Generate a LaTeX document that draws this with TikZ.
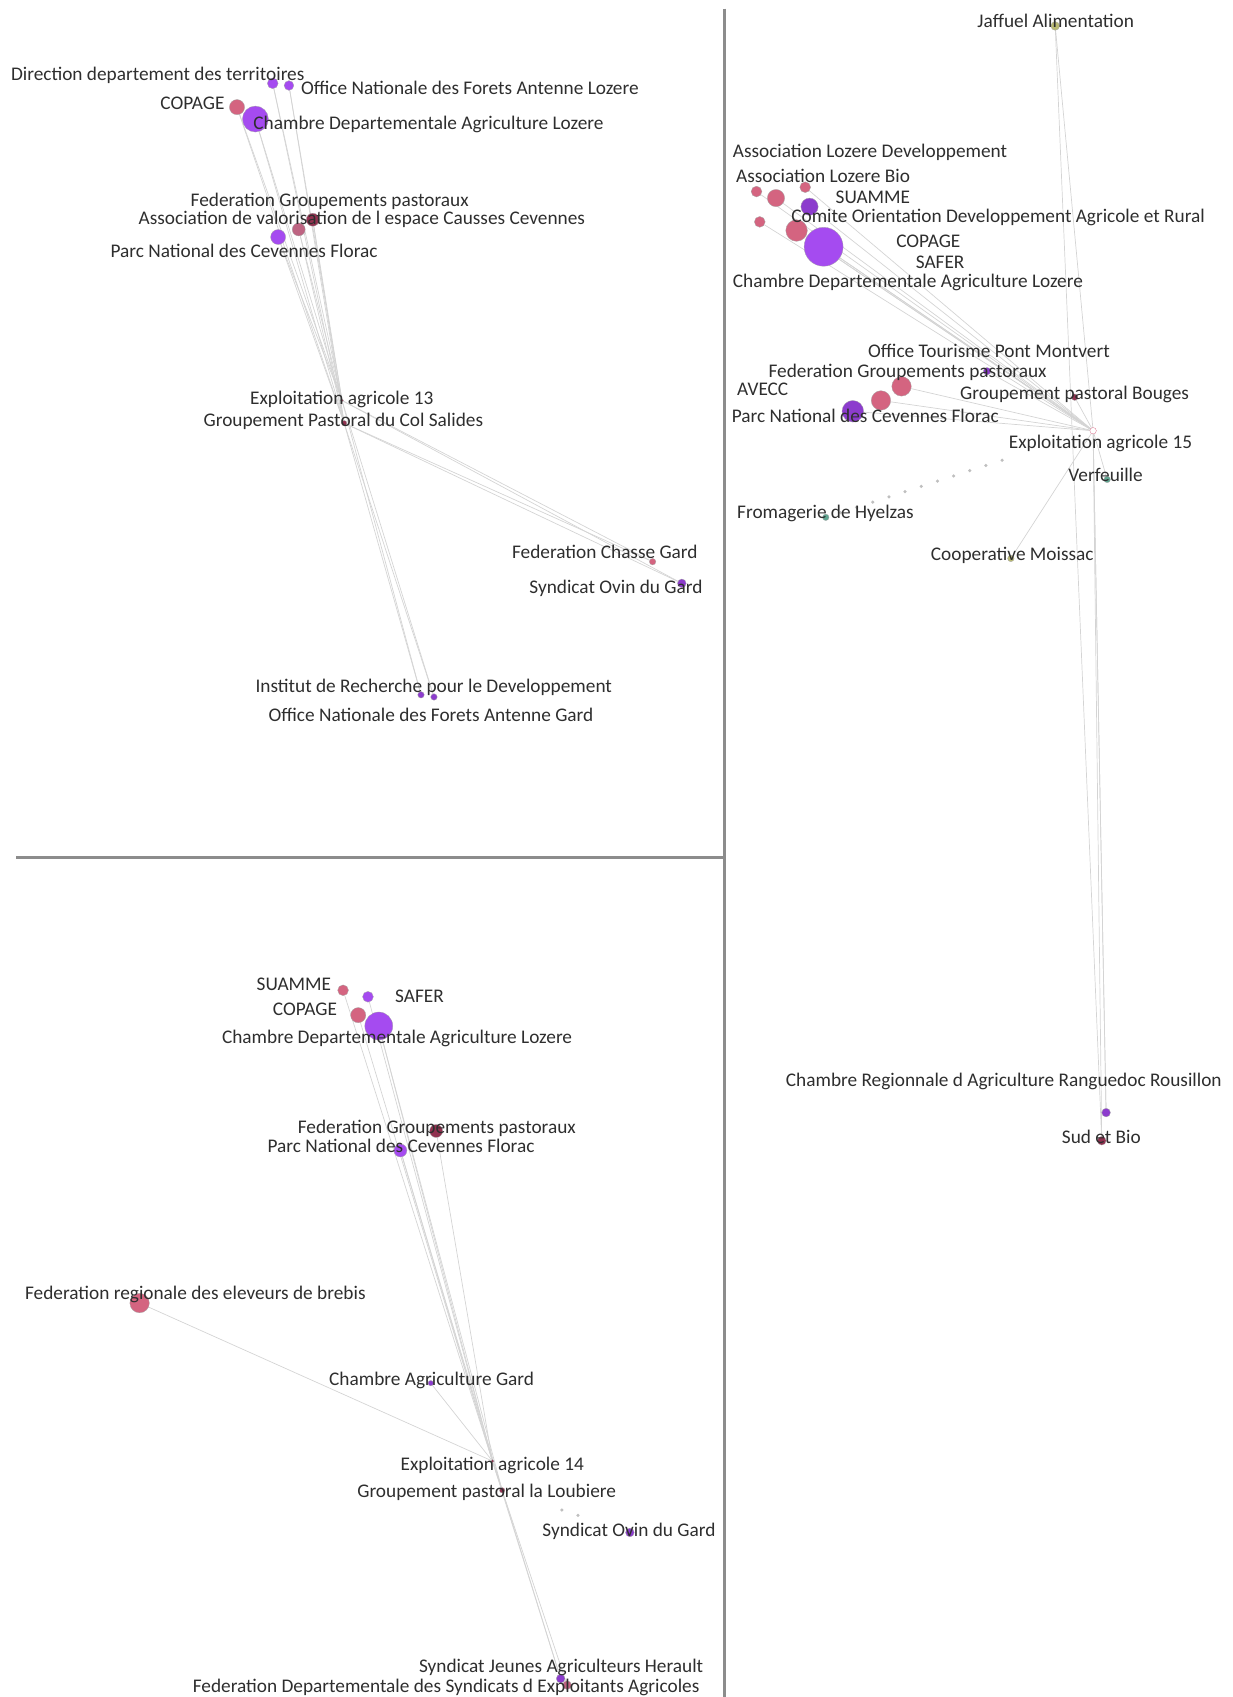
\documentclass[tikz,border=0pt]{standalone}
\usepackage{fontspec}
\setmainfont{Carlito}
\usetikzlibrary{backgrounds}
\definecolor{cviolet}{RGB}{165,75,240}
\definecolor{cpurple}{RGB}{140,60,205}
\definecolor{cpink}{RGB}{212,100,128}
\definecolor{cmauve}{RGB}{190,100,130}
\definecolor{cdark}{RGB}{145,50,80}
\definecolor{cteal}{RGB}{95,165,145}
\definecolor{colive}{RGB}{185,185,115}
\tikzset{
  vtx/.style={circle, inner sep=0pt, minimum size=#1, draw=black!35, line width=0.3pt},
  lab/.style={anchor=base west, inner sep=0pt, yshift=-1.6pt, font=\fontsize{19.3}{21}\selectfont, text=black!82},
  edge/.style={draw=black!17, line width=0.7pt},
  dotedge/.style={draw=black!25, line width=3.5pt, dash pattern=on 0pt off 17pt, line cap=round},
  divider/.style={draw=black!45, line width=3pt},
}
\begin{document}
\begin{tikzpicture}[x=1.0825pt, y=-1.0825pt]
\useasboundingbox (0,0) rectangle (1139,1568);
% dividers
\coordinate (vtop) at (669.7,8);
\coordinate (vbot) at (669.7,1568);
\coordinate (hleft) at (15,792.6);
\coordinate (hright) at (669.7,792.6);
\draw[divider] (vtop) -- (vbot);
\draw[divider] (hleft) -- (hright);

% ================= top-left panel =================
\node[vtx=10.8pt, fill=cviolet] (tlDir) at (252,77) {};
\node[vtx=9.7pt, fill=cviolet] (tlONF) at (267,79) {};
\node[vtx=15.2pt, fill=cpink] (tlCOP) at (219,99) {};
\node[vtx=26pt, fill=cviolet] (tlCDA) at (236,110) {};
\node[vtx=13pt, fill=cdark] (tlFGP) at (289,203) {};
\node[vtx=13pt, fill=cmauve] (tlAVE) at (276,212) {};
\node[vtx=15pt, fill=cviolet] (tlPNC) at (257,219) {};
\node[vtx=3pt, fill=cdark] (tlE13) at (316,370) {};
\node[vtx=5.4pt, fill=cdark] (tlGPC) at (318,391) {};
\node[vtx=6.5pt, fill=cpink] (tlFCG) at (603,519) {};
\node[vtx=8.7pt, fill=cpurple] (tlSOG) at (630,539) {};
\node[vtx=6.5pt, fill=cpurple] (tlIRD) at (389,642) {};
\node[vtx=6.5pt, fill=cpurple] (tlONFG) at (401,644) {};

\begin{scope}[on background layer]
\foreach \n in {tlDir,tlONF,tlCOP,tlCDA,tlFGP,tlAVE,tlPNC}{
  \draw[edge] (\n) -- (tlE13);
  \draw[edge] (\n) -- (tlGPC);
}
\foreach \n in {tlFCG,tlSOG,tlIRD,tlONFG}{
  \draw[edge] (tlE13) -- (\n);
  \draw[edge] (tlGPC) -- (\n);
}
\end{scope}

\node[lab] (tlDirL) at (10,73) {Direction departement des territoires};
\node[lab] (tlONFL) at (278,86) {Office Nationale des Forets Antenne Lozere};
\node[lab] (tlCOPL) at (148,100) {COPAGE};
\node[lab] (tlCDAL) at (234,118) {Chambre Departementale Agriculture Lozere};
\node[lab] (tlFGPL) at (176,189) {Federation Groupements pastoraux};
\node[lab] (tlAVEL) at (128,206) {Association de valorisation de l espace Causses Cevennes};
\node[lab] (tlPNCL) at (102,236) {Parc National des Cevennes Florac};
\node[lab] (tlE13L) at (231,372) {Exploitation agricole 13};
\node[lab] (tlGPCL) at (188,393) {Groupement Pastoral du Col Salides};
\node[lab] (tlFCGL) at (473,515) {Federation Chasse Gard};
\node[lab] (tlSOGL) at (489,547) {Syndicat Ovin du Gard};
\node[lab] (tlIRDL) at (236,638) {Institut de Recherche pour le Developpement};
\node[lab] (tlONFGL) at (248,665) {Office Nationale des Forets Antenne Gard};

% ================= top-right panel =================
\node[vtx=8.7pt, fill=colive] (trJAF) at (975,24) {};
\node[vtx=10.8pt, fill=cpink] (trALD) at (699,177) {};
\node[vtx=17.3pt, fill=cpink] (trALB) at (717,183) {};
\node[vtx=10.8pt, fill=cpink] (trSUA) at (744,173) {};
\node[vtx=17.3pt, fill=cpurple] (trCOD) at (748,191) {};
\node[vtx=10.8pt, fill=cpink] (trCOP) at (702,205) {};
\node[vtx=21.6pt, fill=cpink] (trSAF) at (736,213) {};
\node[vtx=39pt, fill=cviolet] (trCDA) at (761,228) {};
\node[vtx=7.5pt, fill=cpurple] (trOTP) at (912,343) {};
\node[vtx=19.5pt, fill=cpink] (trFGP) at (833,357) {};
\node[vtx=19.5pt, fill=cpink] (trAVE) at (814,370) {};
\node[vtx=21.6pt, fill=cpurple] (trPNC) at (788,380) {};
\node[vtx=6.5pt, fill=cdark] (trGPB) at (993,367) {};
\node[vtx=6.5pt, fill=white, draw=cpink] (trE15) at (1010,398) {};
\node[vtx=6.5pt, fill=cteal] (trVER) at (1023,443) {};
\node[vtx=6.5pt, fill=cteal] (trFRO) at (763,478) {};
\node[vtx=6.5pt, fill=colive] (trCOO) at (934,516) {};
\node[vtx=8.7pt, fill=cpurple] (trCRA) at (1022,1028) {};
\node[vtx=8.7pt, fill=cdark] (trSEB) at (1018,1054) {};

\begin{scope}[on background layer]
\foreach \n in {trALD,trALB,trSUA,trCOD,trCOP,trSAF,trCDA,trOTP,trFGP,trAVE,trPNC,trGPB,trJAF,trVER,trCOO,trCRA,trSEB}{
  \draw[edge] (\n) -- (trE15);
}
\draw[edge] (trCDA) -- (trE15);
\draw[edge] (trSAF) -- (trE15);
\draw[edge] (trJAF) -- (trSEB);
\draw[edge] (trE15) -- (trCRA);
\draw[dotedge, shorten <=12pt, shorten >=80pt] (trFRO) -- (trE15);
\end{scope}

\node[lab] (trJAFL) at (903,24) {Jaffuel Alimentation};
\node[lab] (trALDL) at (677,144) {Association Lozere Developpement};
\node[lab] (trALBL) at (680,167) {Association Lozere Bio};
\node[lab] (trSUAL) at (772,187) {SUAMME};
\node[lab] (trCODL) at (731,204) {Comite Orientation Developpement Agricole et Rural};
\node[lab] (trCOPL) at (828,227) {COPAGE};
\node[lab] (trSAFL) at (846,247) {SAFER};
\node[lab] (trCDAL) at (677,264) {Chambre Departementale Agriculture Lozere};
\node[lab] (trOTPL) at (802,329) {Office Tourisme Pont Montvert};
\node[lab] (trFGPL) at (710,347) {Federation Groupements pastoraux};
\node[lab] (trAVEL) at (681,364) {AVECC};
\node[lab] (trGPBL) at (887,368) {Groupement pastoral Bouges};
\node[lab] (trPNCL) at (676,389) {Parc National des Cevennes Florac};
\node[lab] (trE15L) at (932,413) {Exploitation agricole 15};
\node[lab] (trVERL) at (987,443) {Verfeuille};
\node[lab] (trFROL) at (681,478) {Fromagerie de Hyelzas};
\node[lab] (trCOOL) at (860,516) {Cooperative Moissac};
\node[lab] (trCRAL) at (726,1002) {Chambre Regionnale d Agriculture Ranguedoc Rousillon};
\node[lab] (trSEBL) at (981,1055) {Sud et Bio};

% ================= bottom-left panel =================
\node[vtx=10.8pt, fill=cpink] (blSUA) at (317,915) {};
\node[vtx=10.8pt, fill=cviolet] (blSAF) at (340,921) {};
\node[vtx=15.2pt, fill=cpink] (blCOP) at (331,938) {};
\node[vtx=28pt, fill=cviolet] (blCDA) at (350,948) {};
\node[vtx=13pt, fill=cdark] (blFGP) at (403,1045) {};
\node[vtx=13pt, fill=cviolet] (blPNC) at (370,1063) {};
\node[vtx=19.5pt, fill=cpink] (blFRB) at (129,1204) {};
\node[vtx=5.4pt, fill=cpurple] (blCAG) at (398,1278) {};
\node[vtx=3pt, fill=cdark] (blE14) at (455,1350) {};
\node[vtx=5.4pt, fill=cdark] (blGPL) at (464,1377) {};
\node[vtx=8.7pt, fill=cpurple] (blSOG) at (582,1416) {};
\node[vtx=8.7pt, fill=cpurple] (blSJA) at (518,1551) {};
\node[vtx=8.7pt, fill=cmauve] (blFDS) at (524,1557) {};

\begin{scope}[on background layer]
\foreach \n in {blSUA,blSAF,blCOP,blCDA,blFGP,blPNC}{
  \draw[edge] (\n) -- (blE14);
}
\draw[edge] (blCDA) -- (blGPL);
\draw[edge] (blPNC) -- (blGPL);
\draw[edge] (blFRB) -- (blE14);
\draw[edge] (blCAG) -- (blE14);
\draw[edge] (blE14) -- (blGPL);
\draw[edge] (blE14) -- (blSJA);
\draw[edge] (blE14) -- (blFDS);
\draw[edge] (blGPL) -- (blSJA);
\draw[dotedge, shorten <=60pt, shorten >=35pt] (blGPL) -- (blSOG);
\end{scope}

\node[lab] (blSUAL) at (237,914) {SUAMME};
\node[lab] (blSAFL) at (365,925) {SAFER};
\node[lab] (blCOPL) at (252,937) {COPAGE};
\node[lab] (blCDAL) at (205,963) {Chambre Departementale Agriculture Lozere};
\node[lab] (blFGPL) at (275,1046) {Federation Groupements pastoraux};
\node[lab] (blPNCL) at (247,1063) {Parc National des Cevennes Florac};
\node[lab] (blFRBL) at (23,1199) {Federation regionale des eleveurs de brebis};
\node[lab] (blCAGL) at (304,1279) {Chambre Agriculture Gard};
\node[lab] (blE14L) at (370,1357) {Exploitation agricole 14};
\node[lab] (blGPLL) at (330,1382) {Groupement pastoral la Loubiere};
\node[lab] (blSOGL) at (501,1418) {Syndicat Ovin du Gard};
\node[lab] (blSJAL) at (387,1544) {Syndicat Jeunes Agriculteurs Herault};
\node[lab] (blFDSL) at (178,1562) {Federation Departementale des Syndicats d Exploitants Agricoles};
\end{tikzpicture}
\end{document}
